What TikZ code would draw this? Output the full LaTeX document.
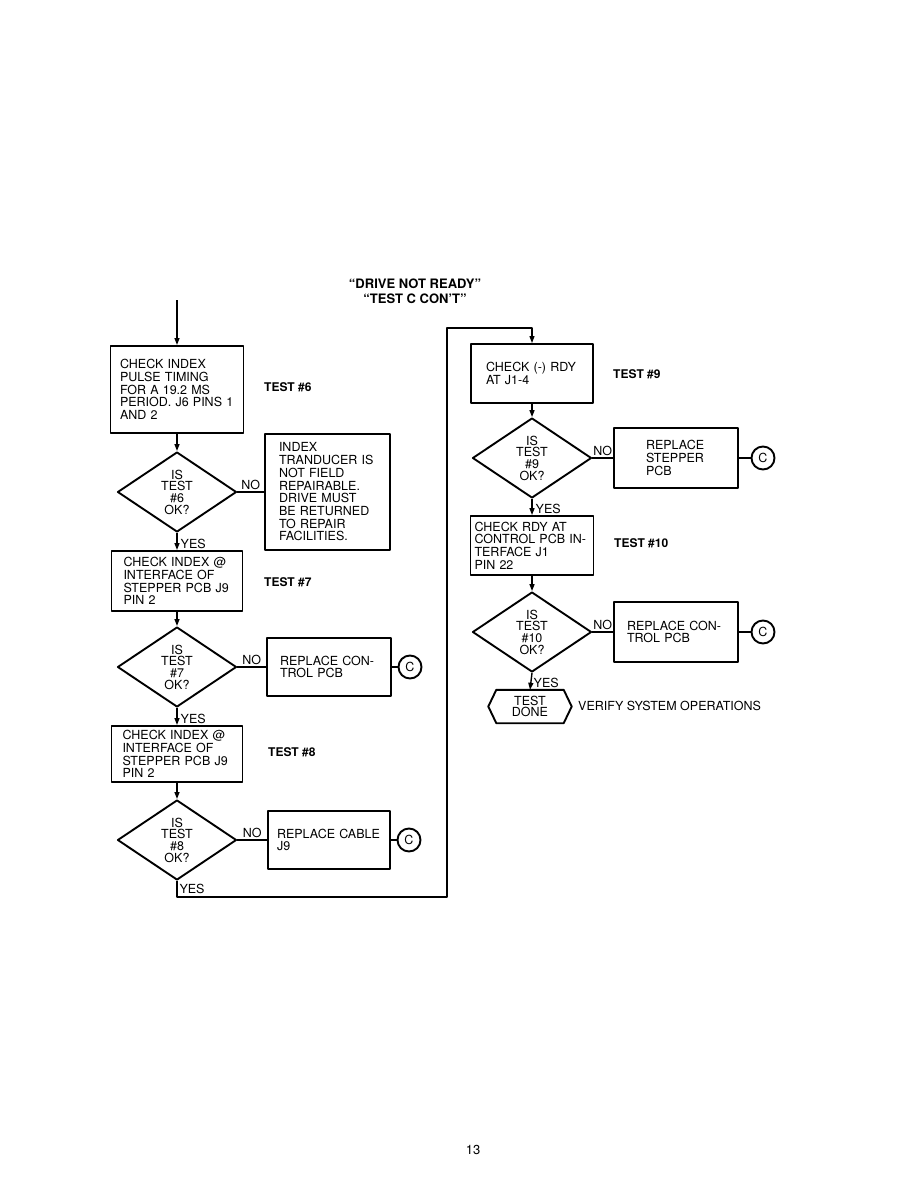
\documentclass[tikz,border=0pt]{standalone}
\usepackage{fontspec}
\setmainfont{TeX Gyre Heros}
\usetikzlibrary{calc,shapes.geometric,arrows.meta}

\begin{document}
\begin{tikzpicture}[x=1pt, y=-1pt, line join=round,
    every node/.style={font=\fontsize{12.5}{12.7}\selectfont},
    stepbox/.style={draw, line width=1.9pt, rectangle, align=left, inner sep=0pt},
    ask/.style={draw, line width=1.9pt, diamond, aspect=1.5, inner sep=0pt, align=center,
        minimum width=119pt, minimum height=80pt, font=\fontsize{12.5}{11.7}\selectfont},
    ret/.style={draw, line width=1.9pt, circle, minimum size=23pt, inner sep=0pt},
    tst/.style={anchor=west, inner sep=0pt, font=\bfseries\fontsize{12}{14}\selectfont},
    flow/.style={line width=1.4pt, -{Triangle[length=7pt,width=5pt]}},
    link/.style={line width=1.4pt},
    nolbl/.style={midway, anchor=south, inner sep=1.5pt},
    yeslbl/.style={pos=1, anchor=south west, inner sep=1pt, xshift=2pt}]
    \useasboundingbox (0,0) rectangle (918,1188);

    % title
    \node[align=center, font=\bfseries\fontsize{13}{15}\selectfont] (title) at (415,291)
        {``DRIVE NOT READY''\\``TEST C CON'T''};

    % left column
    \coordinate (entry) at (177,300);
    \node[stepbox, minimum width=133pt, minimum height=87pt, text width=114pt] (b1) at (177,389.5)
        {CHECK INDEX\\PULSE TIMING\\FOR A 19.2 MS\\PERIOD. J6 PINS 1\\AND 2};
    \node[tst] (t6) at (264,387) {TEST \#6};
    \node[ask] (d1) at (177,492) {IS\\TEST\\\#6\\OK?};
    \node[stepbox, minimum width=125pt, minimum height=116pt, text width=97pt] (b2) at (327.5,492)
        {INDEX\\TRANDUCER IS\\NOT FIELD\\REPAIRABLE.\\DRIVE MUST\\BE RETURNED\\TO REPAIR\\FACILITIES.};

    \node[stepbox, minimum width=131pt, minimum height=60pt, text width=107pt] (b3) at (177,581)
        {CHECK INDEX @\\INTERFACE OF\\STEPPER PCB J9\\PIN 2};
    \node[tst] (t7) at (264,582) {TEST \#7};
    \node[ask] (d2) at (177,667) {IS\\TEST\\\#7\\OK?};
    \node[stepbox, minimum width=124pt, minimum height=58pt, text width=98pt] (b4) at (329,667)
        {REPLACE CON-\\TROL PCB};
    \node[ret] (c1) at (410,667) {C};

    \node[stepbox, minimum width=131pt, minimum height=56pt, text width=109pt] (b5) at (177,754)
        {CHECK INDEX @\\INTERFACE OF\\STEPPER PCB J9\\PIN 2};
    \node[tst] (t8) at (268,752) {TEST \#8};
    \node[ask] (d3) at (177,840) {IS\\TEST\\\#8\\OK?};
    \node[stepbox, minimum width=122pt, minimum height=58pt, text width=104pt] (b6) at (329,840)
        {REPLACE CABLE\\J9};
    \node[ret] (c2) at (409,840) {C};

    % right column
    \node[stepbox, minimum width=122pt, minimum height=59pt, text width=92pt] (b7) at (532,373.5)
        {CHECK (-) RDY\\AT J1-4};
    \node[tst] (t9) at (613,374) {TEST \#9};
    \node[ask] (d4) at (532,458) {IS\\TEST\\\#9\\OK?};
    \node[stepbox, minimum width=124pt, minimum height=60pt, text width=60pt] (b8) at (676,458)
        {REPLACE\\STEPPER\\PCB};
    \node[ret] (c3) at (763,458) {C};

    \node[stepbox, minimum width=123pt, minimum height=59pt, text width=115pt] (b9) at (532,545.5)
        {CHECK RDY AT\\CONTROL PCB IN-\\TERFACE J1\\PIN 22};
    \node[tst] (t10) at (614,543) {TEST \#10};
    \node[ask] (d5) at (532,632) {IS\\TEST\\\#10\\OK?};
    \node[stepbox, minimum width=124pt, minimum height=60pt, text width=98pt] (b10) at (676,632)
        {REPLACE CON-\\TROL PCB};
    \node[ret] (c4) at (763,632) {C};

    \node[minimum width=67pt, minimum height=33pt, inner sep=0pt, align=center,
        font=\fontsize{12.5}{11.5}\selectfont] (done) at (530,706.5) {TEST\\DONE};
    \draw[line width=1.9pt] (done.north west) -- (done.north east) -- ($(done.east)+(8,0)$)
        -- (done.south east) -- (done.south west) -- ($(done.west)+(-8,0)$) -- cycle;
    \node[anchor=west, inner sep=0pt] (verify) at (578,706) {VERIFY SYSTEM OPERATIONS};

    % connectors
    \draw[flow] (entry) -- (b1.north);
    \draw[flow] (b1.south) -- (d1.north);
    \draw[link] (d1.east) -- node[nolbl] {NO} (b2.west);
    \draw[flow] (d1.south) -- node[yeslbl] {YES} (b3.north);
    \draw[flow] (b3.south) -- (d2.north);
    \draw[link] (d2.east) -- node[nolbl] {NO} (b4.west);
    \draw[link] (b4.east) -- (c1.west);
    \draw[flow] (d2.south) -- node[yeslbl] {YES} (b5.north);
    \draw[flow] (b5.south) -- (d3.north);
    \draw[link] (d3.east) -- node[nolbl] {NO} (b6.west);
    \draw[link] (b6.east) -- (c2.west);

    \coordinate (lowA) at (447,897);
    \coordinate (highA) at (447,328);
    \draw[flow, line width=1.1pt] (d3.south) |- node[pos=0.25, anchor=west, inner sep=2pt] {YES} (lowA)
        -- (highA) -| (b7.north);

    \draw[flow] (b7.south) -- (d4.north);
    \draw[link] (d4.east) -- node[nolbl] {NO} (b8.west);
    \draw[link] (b8.east) -- (c3.west);
    \draw[flow] (d4.south) -- node[yeslbl] {YES} (b9.north);
    \draw[flow] (b9.south) -- (d5.north);
    \draw[link] (d5.east) -- node[nolbl] {NO} (b10.west);
    \draw[link] (b10.east) -- (c4.west);
    \draw[flow] (d5.south) -- node[yeslbl] {YES} (done.north);

    \node[font=\fontsize{13}{15}\selectfont] (page) at (473,1150) {13};
\end{tikzpicture}
\end{document}
